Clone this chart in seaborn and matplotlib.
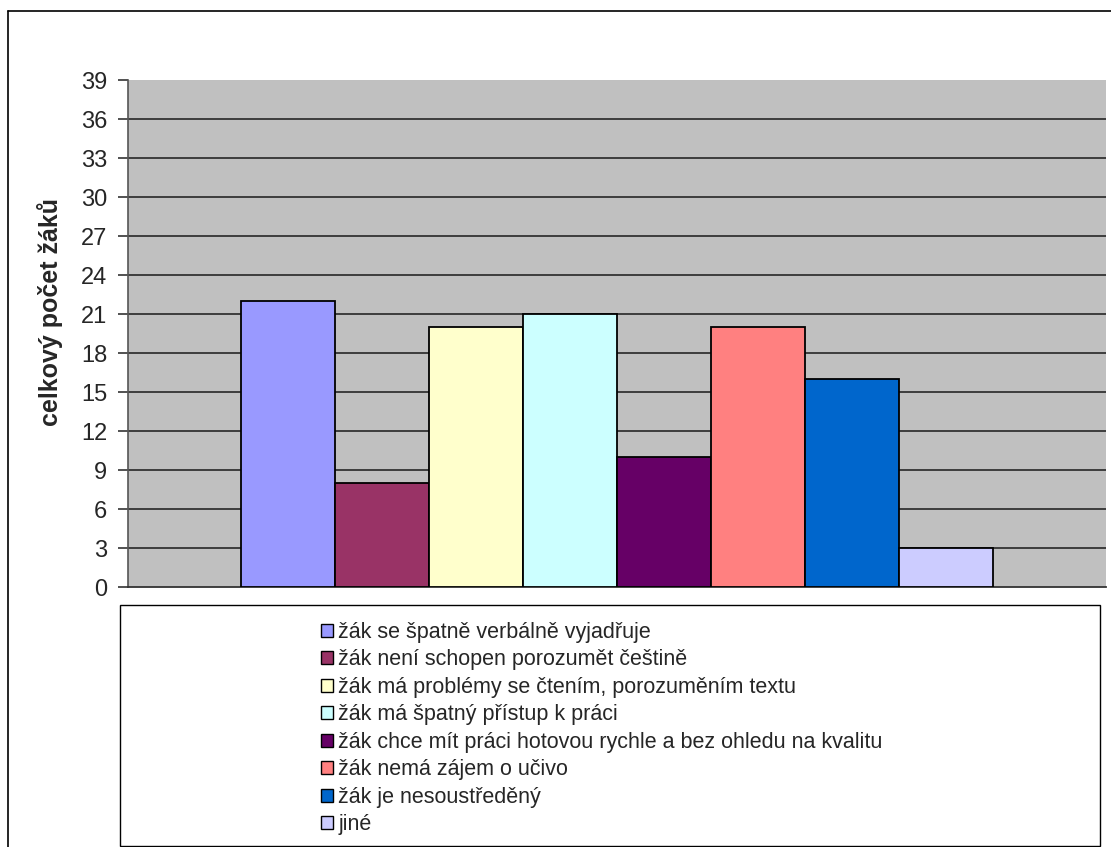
import matplotlib
matplotlib.use("Agg")
import matplotlib.pyplot as plt
import seaborn as sns
import pandas as pd
from matplotlib.patches import Rectangle
from matplotlib.lines import Line2D

categories = [
    "žák se špatně verbálně vyjadřuje",
    "žák není schopen porozumět češtině",
    "žák má problémy se čtením, porozuměním textu",
    "žák má špatný přístup k práci",
    "žák chce mít práci hotovou rychle a bez ohledu na kvalitu",
    "žák nemá zájem o učivo",
    "žák je nesoustředěný",
    "jiné",
]
values = [22, 8, 20, 21, 10, 20, 16, 3]
colors = ["#9999FF", "#993366", "#FFFFCC", "#CCFFFF",
          "#660066", "#FF8080", "#0066CC", "#CCCCFF"]
y_ticks = list(range(0, 40, 3))
y_label = "celkový počet žáků"

sns.set_style("white")
plt.rcParams["font.family"] = ["Liberation Sans", "DejaVu Sans"]

W, H = 1111, 847
fig = plt.figure(figsize=(W / 100, H / 100), dpi=100)

def fx(px):
    return px / W

def fy(py):
    return 1 - py / H

left, right, top, bottom = 128, 1106, 80, 587
ax = fig.add_axes([fx(left), fy(bottom), fx(right - left), (bottom - top) / H])
ax.set_facecolor("#C0C0C0")

df = pd.DataFrame({"grp": [""] * len(categories), "kat": categories, "n": values})
sns.barplot(data=df, x="grp", y="n", hue="kat", hue_order=categories,
            palette=colors, width=0.769, edgecolor="black", linewidth=1.3,
            saturation=1, legend=False, ax=ax, zorder=3)

ax.set_xlim(-0.5, 0.5)
ax.set_ylim(0, 39)
ax.set_yticks(y_ticks)
ax.set_yticklabels([str(t) for t in y_ticks], fontsize=17)
ax.set_xticks([])
ax.set_xlabel("")
ax.set_ylabel(y_label, fontsize=18, fontweight="bold")
ax.yaxis.set_label_coords(-0.066, 0.542)

for t in y_ticks[1:-1]:
    ax.axhline(t, color="#333333", lw=1.3, zorder=1)

for s in ["top", "right"]:
    ax.spines[s].set_visible(False)
ax.spines["left"].set_color("#555555")
ax.spines["left"].set_linewidth(1.2)
ax.spines["bottom"].set_color("#333333")
ax.spines["bottom"].set_linewidth(1.3)
ax.tick_params(axis="y", direction="out", length=7, width=1.2,
               color="#333333", pad=8, left=True)

# outer chart frame
fig.add_artist(Line2D([fx(8), fx(8)], [fy(11), fy(H + 5)], color="black", lw=1.2))
fig.add_artist(Line2D([fx(8), fx(W + 5)], [fy(11), fy(11)], color="black", lw=1.2))

# legend box
fig.add_artist(Rectangle((fx(120), fy(846)), fx(1100 - 120), (846 - 605) / H,
                         transform=fig.transFigure, fill=False,
                         edgecolor="black", lw=1.0))

handles = [Rectangle((0, 0), 1, 1, facecolor=c, edgecolor="black", lw=1.0)
           for c in colors]
fig.legend(handles, categories, loc="upper left",
           bbox_to_anchor=(fx(321), fy(622)), frameon=False,
           fontsize=15.5, handlelength=0.56, handleheight=0.56,
           handletextpad=0.25, labelspacing=0.30, borderpad=0, borderaxespad=0)

fig.savefig("out.png", dpi=100)
